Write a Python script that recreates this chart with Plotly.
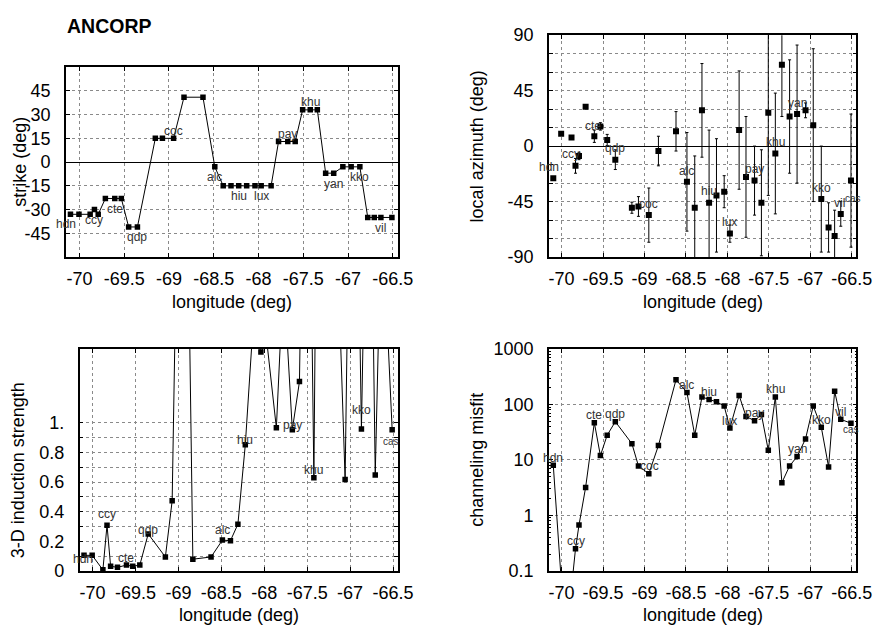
import plotly.graph_objects as go
import math

# ---------------- data ----------------
lon = [-70.10, -70.005, -69.88, -69.832, -69.79, -69.71, -69.605, -69.532, -69.45, -69.352,
       -69.152, -69.073, -68.948, -68.832, -68.62, -68.488, -68.394, -68.307, -68.221, -68.132,
       -68.039, -67.97, -67.859, -67.776, -67.673, -67.59, -67.507, -67.422, -67.343, -67.25,
       -67.16, -67.058, -66.965, -66.868, -66.78, -66.707, -66.633, -66.51]
stations = ['hdn', '', '', 'ccy', '', '', 'cte', '', '', 'qdp',
            '', '', 'coc', '', '', 'alc', '', '', 'hiu', '',
            '', 'lux', '', '', 'pay', '', '', 'khu', '', '',
            'yan', '', '', 'kko', '', '', 'vil', 'cas']

strike = [-33, -33, -33, -30, -33, -23, -23, -23, -41, -41,
          15, 15, 15, 41, 41, -3, -15, -15, -15, -15,
          -15, -15, -15, 13, 13, 13, 33, 33, 33, -7,
          -7, -3, -3, -3, -35, -35, -35, -35]

azimuth = [-26, 10, 7, -16, -8, 32, 8, 16, 5, -11,
           -50, -49, -56, -4, 12, -29, -50, 29, -46, -40,
           -37, -71, 13, -25, -28, -46, 27, -6, 66, 24,
           26, 29, 17, -43, -66, -73, -55, -28]
azimuth_err = [0, 0, 0, 6, 3, 0, 5, 3, 4.5, 8,
               4.5, 8, 22, 12, 16, 40, 42, 38, 59, 46,
               13, 7, 48, 49, 28, 43, 67, 49, 42, 46,
               56, 6, 62, 43, 20, 21, 10, 54]

induction = [0.105, 0.105, 0.007, 0.309, 0.031, 0.024, 0.039, 0.031, 0.039, 0.25,
             0.094, 0.474, 4.8, 0.079, 0.094, 0.208, 0.204, 0.316, 0.853, 1.65,
             1.48, 1.55, 0.967, 2.0, 0.954, 1.28, 4.5, 0.629, 6.0, 4.0,
             2.4, 0.618, 4.5, 0.96, 3.8, 0.649, 2.5, 0.954]

misfit = [8.0, 0.07, 0.05, 0.25, 0.67, 3.2, 47, 12, 28, 49,
          19.7, 7.8, 5.65, 18.2, 279, 165, 28, 137, 123, 112,
          94, 37.6, 146, 61, 51, 66, 14.9, 137, 3.9, 7.8,
          11.5, 24, 94, 39, 7.5, 174, 54, 46]

x_ticks = [-70, -69.5, -69, -68.5, -68, -67.5, -67, -66.5]
x_ticktext = ['-70', '-69.5', '-69', '-68.5', '-68', '-67.5', '-67', '-66.5']
strike_ticks = [-45, -30, -15, 0, 15, 30, 45]
az_ticks = [-90, -75, -60, -45, -30, -15, 0, 15, 30, 45, 60, 75, 90]
az_ticktext = ['-90', '', '', '-45', '', '', '0', '', '', '45', '', '', '90']
ind_ticks = [0, 0.1, 0.2, 0.3, 0.4, 0.5, 0.6, 0.7, 0.8, 0.9, 1.0]
ind_ticktext = ['0', '', '0.2', '', '0.4', '', '0.6', '', '0.8', '', '1.']
mis_ticks = [0.1, 1, 10, 100, 1000]
mis_ticktext = ['0.1', '1', '10', '100', '1000']
mis_minor = [m * 10 ** e for e in range(-1, 3) for m in range(2, 10)]

# ---------------- style ----------------
W, H = 892, 639
FONT = 'Liberation Sans, Arial, Helvetica, sans-serif'
XR = [-70.152, -66.445]

def px(x):
    return x / W

def py(y):
    return 1 - y / H

fig = go.Figure()

line_style = dict(color='black', width=1)
mk = dict(symbol='square', size=5.5, color='black')

fig.add_trace(go.Scatter(x=lon, y=strike, mode='lines+markers', line=line_style, marker=mk,
                         xaxis='x', yaxis='y'))
fig.add_trace(go.Scatter(x=lon, y=azimuth, mode='markers', marker=dict(symbol='square', size=6, color='black'),
                         error_y=dict(type='data', array=azimuth_err, symmetric=True, color='black',
                                      thickness=1, width=1.5),
                         xaxis='x2', yaxis='y2'))
fig.add_trace(go.Scatter(x=lon, y=induction, mode='lines+markers', line=line_style, marker=mk,
                         xaxis='x3', yaxis='y3'))
fig.add_trace(go.Scatter(x=lon, y=misfit, mode='lines+markers', line=line_style, marker=mk,
                         xaxis='x4', yaxis='y4'))

axis_common = dict(showline=True, linecolor='black', linewidth=1.5, mirror='ticks', ticks='inside',
                   ticklen=4, tickcolor='black', showgrid=True, gridcolor='#8a8a8a', griddash='dot',
                   gridwidth=1, zeroline=False,
                   tickfont=dict(family=FONT, size=18, color='black'))

def xaxis(domain, anchor):
    return dict(axis_common, domain=domain, anchor=anchor, range=XR, tickmode='array',
                tickvals=x_ticks, ticktext=x_ticktext, ticklabelstandoff=5)

P1 = dict(x0=67, x1=405, y0=59, y1=255)
P2 = dict(x0=559, x1=872, y0=26, y1=255)
P3 = dict(x0=81, x1=405, y0=350, y1=579)
P4 = dict(x0=559, x1=872, y0=350, y1=579)

def dom(p):
    return [px(p['x0']), px(p['x1'])], [py(p['y1']), py(p['y0'])]

d1x, d1y = dom(P1)
d2x, d2y = dom(P2)
d3x, d3y = dom(P3)
d4x, d4y = dom(P4)

layout = dict(
    width=W, height=H, autosize=False,
    margin=dict(l=0, r=0, t=0, b=0),
    paper_bgcolor='white', plot_bgcolor='white', showlegend=False,
    font=dict(family=FONT, size=18, color='black'),
    xaxis=xaxis(d1x, 'y'),
    xaxis2=xaxis(d2x, 'y2'),
    xaxis3=xaxis(d3x, 'y3'),
    xaxis4=xaxis(d4x, 'y4'),
    yaxis=dict(axis_common, domain=d1y, anchor='x', range=[-60, 60], tickmode='array',
               tickvals=strike_ticks, ticktext=[str(v) for v in strike_ticks],
               zeroline=True, zerolinecolor='black', zerolinewidth=1, ticklabelstandoff=10),
    yaxis2=dict(axis_common, domain=d2y, anchor='x2', range=[-90, 90], tickmode='array',
                tickvals=az_ticks, ticktext=az_ticktext,
                zeroline=True, zerolinecolor='black', zerolinewidth=1, ticklabelstandoff=10),
    yaxis3=dict(axis_common, domain=d3y, anchor='x3', range=[0, 1.5], tickmode='array',
                tickvals=ind_ticks, ticktext=ind_ticktext, ticklabelstandoff=10),
    yaxis4=dict(axis_common, domain=d4y, anchor='x4', type='log', range=[-1, 3], tickmode='array',
                tickvals=mis_ticks, ticktext=mis_ticktext, ticklabelstandoff=10,
                minor=dict(tickmode='array', tickvals=mis_minor, ticks='inside', ticklen=2,
                           tickcolor='black', showgrid=False)),
)

annotations = []

# title
annotations.append(dict(text='<b>ANCORP</b>', x=px(111), y=py(16.5), xref='paper', yref='paper',
                        xanchor='center', yanchor='middle', showarrow=False,
                        font=dict(family=FONT, size=19.5, color='black')))

# axis titles
def title(text, x, y, angle=0):
    annotations.append(dict(text=text, x=px(x), y=py(y), xref='paper', yref='paper',
                            xanchor='center', yanchor='middle', showarrow=False, textangle=angle,
                            font=dict(family=FONT, size=18, color='black')))

title('strike (deg)', 20, 157, -90)
title('longitude (deg)', 236, 301.5)
title('local azimuth (deg)', 486, 140.5, -90)
title('longitude (deg)', 715.5, 301.5)
title('3-D induction strength', 18.5, 475, -90)
title('longitude (deg)', 243, 625)
title('channeling misfit', 486, 464, -90)
title('longitude (deg)', 715.5, 625)

# station labels (offsets: dx, dy in pixels, dy positive = downward)
LBL_FONT = dict(family=FONT, size=12, color='#333333')
CAS_FONT = dict(family=FONT, size=10, color='#333333')

def add_labels(values, xr, yr, default_dy, overrides, skip=(), log=False, vrange=None):
    for i, name in enumerate(stations):
        if not name or name in skip:
            continue
        v = values[i]
        if vrange is not None and not (vrange[0] <= v <= vrange[1]):
            continue
        dx, dy = overrides.get(name, (0, default_dy(v)))
        annotations.append(dict(text=name, x=lon[i], y=math.log10(v) if log else v,
                                xref=xr, yref=yr, xanchor='center', yanchor='middle',
                                showarrow=False, xshift=dx, yshift=-dy,
                                font=CAS_FONT if name == 'cas' else LBL_FONT))

add_labels(strike, 'x', 'y', lambda v: -7.5 if v > 0 else 10.5, {'hdn': (-4.5, 10)}, skip=('cas',))
add_labels(azimuth, 'x2', 'y2', lambda v: -11.3,
           {'hdn': (-4.4, -11.4), 'ccy': (-4.4, -12), 'cte': (-1, -10.7), 'vil': (-1, -11.3),
            'cas': (2, 17.5)})
add_labels(induction, 'x3', 'y3', lambda v: -8,
           {'hdn': (-1, 3.3), 'ccy': (0, -11), 'cte': (-0.7, -6.7), 'qdp': (0, -4),
            'alc': (0, -10.3), 'hiu': (0, -5), 'pay': (0, -4.7), 'khu': (-0.7, -8),
            'kko': (0, -18.7), 'cas': (-0.7, 11.3)}, vrange=(0, 1.5))
add_labels(misfit, 'x4', 'y4', lambda v: -7.5, {'coc': (1, -7.7), 'cas': (0, 6)}, log=True)

layout['annotations'] = annotations
fig.update_layout(**layout)
fig.write_html('out.html', config={'displayModeBar': False},
               post_script="document.body.style.margin='0';document.body.style.padding='0';")
